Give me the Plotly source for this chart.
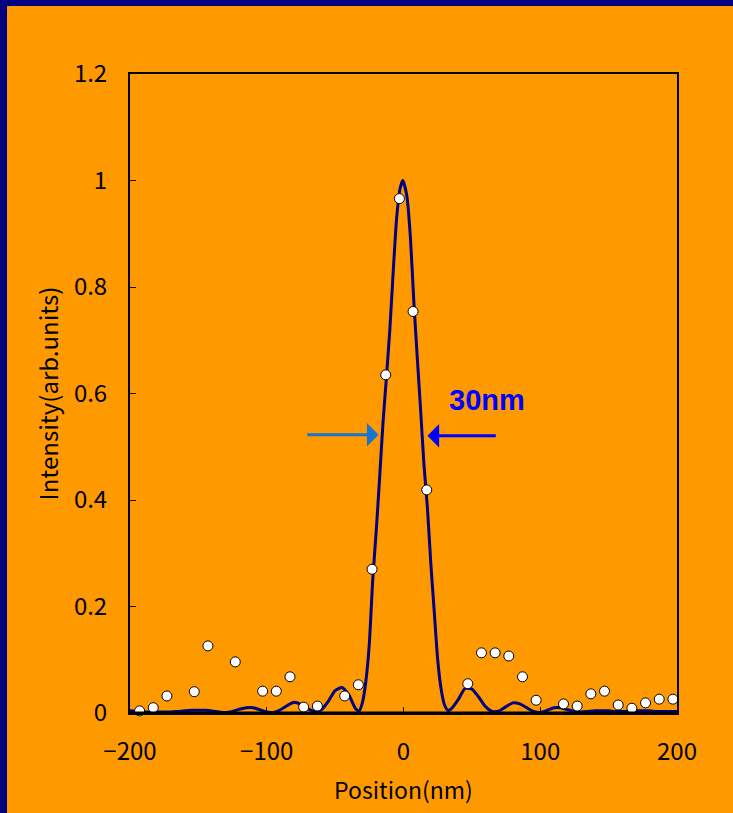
import plotly.graph_objects as go

# ---- data ----
line_x = [-200, -195, -190, -185, -180, -175, -170, -165, -160, -155, -150, -145, -140, -135,
          -130, -125, -120, -115, -110, -105, -100, -95, -90, -85, -80, -75, -70, -65, -60,
          -55, -50, -45, -40, -35, -32.5, -30, -27.5, -25, -22.5, -20, -17.5, -15, -12.5,
          -10, -7.5, -5, -2.5, -0.5, 2.5, 5, 7.5, 10, 12.5, 15, 17.5, 20, 22.5, 25, 27.5,
          30, 32.5, 35, 40, 45, 50, 55, 60, 65, 70, 75, 80, 85, 90, 95, 100, 105, 110, 115,
          120, 125, 130, 135, 140, 145, 150, 155, 160, 165, 170, 175, 180, 185, 190, 195, 200]
line_y = [0.004, 0.003, 0.002, 0.002, 0.002, 0.002, 0.002, 0.003, 0.004, 0.005, 0.005, 0.005,
          0.004, 0.002, 0.001, 0.003, 0.007, 0.010, 0.010, 0.006, 0.002, 0.001, 0.006, 0.014,
          0.020, 0.016, 0.008, 0.003, 0.006, 0.022, 0.042, 0.048, 0.034, 0.008, 0.004, 0.020,
          0.060, 0.130, 0.250, 0.340, 0.440, 0.545, 0.630, 0.720, 0.830, 0.930, 0.985, 1.000,
          0.970, 0.895, 0.775, 0.670, 0.570, 0.465, 0.385, 0.280, 0.190, 0.100, 0.045, 0.015,
          0.005, 0.008, 0.025, 0.046, 0.045, 0.030, 0.012, 0.003, 0.004, 0.012, 0.019, 0.017,
          0.010, 0.003, 0.001, 0.005, 0.010, 0.010, 0.006, 0.003, 0.002, 0.003, 0.004, 0.004,
          0.004, 0.003, 0.003, 0.003, 0.004, 0.004, 0.004, 0.003, 0.003, 0.003, 0.003]

meas_x = [-193, -183, -173, -153, -143, -123, -103, -93, -83, -73, -63, -43, -33, -23, -13, -3,
          7, 17, 47, 57, 67, 77, 87, 97, 117, 127, 137, 147, 157, 167, 177, 187, 197]
meas_y = [0.004, 0.010, 0.032, 0.040, 0.126, 0.096, 0.041, 0.041, 0.068, 0.011, 0.013, 0.032,
          0.053, 0.270, 0.635, 0.966, 0.754, 0.419, 0.055, 0.113, 0.113, 0.107, 0.068, 0.024,
          0.017, 0.013, 0.036, 0.041, 0.015, 0.009, 0.019, 0.026, 0.026]

x_ticks = [-200, -100, 0, 100, 200]
y_ticks = [0, 0.2, 0.4, 0.6, 0.8, 1, 1.2]

# ---- layout constants ----
W, H = 733, 813
ML, MR, MT, MB = 130, 56, 74, 100
PW, PH = W - ML - MR, H - MT - MB

def px_x(p):
    return (p - ML) / PW

def px_y(p):
    return 1 - (p - MT) / PH

ORANGE = "#FF9900"
NAVY = "#000080"
FONT = "Noto Sans CJK JP"

fig = go.Figure()
fig.add_trace(go.Scatter(x=line_x, y=line_y, mode="lines",
                         line=dict(color=NAVY, width=3, shape="spline", smoothing=0.6),
                         showlegend=False, hoverinfo="skip"))
fig.add_trace(go.Scatter(x=meas_x, y=meas_y, mode="markers", cliponaxis=False,
                         marker=dict(size=10, color="white", line=dict(color="black", width=1)),
                         showlegend=False))

fig.update_layout(
    width=W, height=H,
    paper_bgcolor=ORANGE, plot_bgcolor=ORANGE,
    margin=dict(l=ML, r=MR, t=MT, b=MB, autoexpand=False),
    font=dict(family=FONT, color="black", size=20),
    xaxis=dict(range=[-200, 200], tickvals=x_ticks, ticks="inside", ticklen=6, tickcolor="black",
               showline=True, linecolor="black", linewidth=2, mirror=True, showgrid=False,
               zeroline=False, tickfont=dict(size=24), ticklabelstandoff=16,
               title=dict(text="Position(nm)", font=dict(size=23), standoff=17)),
    yaxis=dict(range=[0, 1.2], tickvals=y_ticks, ticks="inside", ticklen=6, tickcolor="black",
               showline=True, linecolor="black", linewidth=2, mirror=True, showgrid=False,
               zeroline=False, tickfont=dict(size=24), ticklabelstandoff=16,
               title=dict(text="Intensity(arb.units)", font=dict(size=24), standoff=8)),
    shapes=[
        dict(type="rect", xref="paper", yref="paper", x0=px_x(0), x1=px_x(7),
             y0=px_y(H), y1=px_y(0), fillcolor=NAVY, line=dict(width=0), layer="above"),
        dict(type="rect", xref="paper", yref="paper", x0=px_x(0), x1=px_x(W),
             y0=px_y(6), y1=px_y(0), fillcolor=NAVY, line=dict(width=0), layer="above"),
        dict(type="line", xref="paper", yref="paper", x0=0, x1=1, y0=0, y1=0,
             line=dict(color="black", width=3)),
    ],
    annotations=[
        dict(x=61, y=0.588, xref="x", yref="y", text="<b>30nm</b>", showarrow=False,
             font=dict(family="Liberation Sans", size=29, color="#0000FF")),
        dict(x=-18.2, y=0.5226, ax=-71.5, ay=0.5226, xref="x", yref="y", axref="x", ayref="y",
             text="", showarrow=True, arrowhead=1, arrowsize=1.3, arrowwidth=3,
             arrowcolor="#1874CD"),
        dict(x=17.5, y=0.5207, ax=68.6, ay=0.5207, xref="x", yref="y", axref="x", ayref="y",
             text="", showarrow=True, arrowhead=1, arrowsize=1.3, arrowwidth=3,
             arrowcolor="#0000FF"),
    ],
)

fig.write_html("out.html")
